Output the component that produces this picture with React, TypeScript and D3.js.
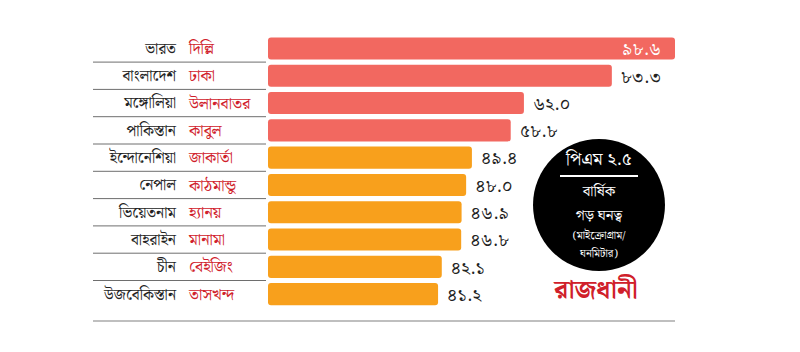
import { useRef, useEffect } from 'react'
import * as d3 from 'd3'

const countries = ['ভারত', 'বাংলাদেশ', 'মঙ্গোলিয়া', 'পাকিস্তান', 'ইন্দোনেশিয়া', 'নেপাল', 'ভিয়েতনাম', 'বাহরাইন', 'চীন', 'উজবেকিস্তান']
const capitals = ['দিল্লি', 'ঢাকা', 'উলানবাতর', 'কাবুল', 'জাকার্তা', 'কাঠমান্ডু', 'হ্যানয়', 'মানামা', 'বেইজিং', 'তাসখন্দ']
const values = [98.6, 83.3, 62.0, 58.8, 49.4, 48.0, 46.9, 46.8, 42.1, 41.2]
// first four rows in red, rest orange
const groups = ['high', 'high', 'high', 'high', 'mid', 'mid', 'mid', 'mid', 'mid', 'mid']

const BN_DIGITS = ['০', '১', '২', '৩', '৪', '৫', '৬', '৭', '৮', '৯']
function bn(v: number): string {
  return v.toFixed(1).replace(/\d/g, d => BN_DIGITS[+d])
}

const FONT = '"Noto Serif Bengali", "Noto Sans Bengali", "Lohit Bengali", "Noto Sans", sans-serif'

export default function App() {
  const svgRef = useRef<SVGSVGElement>(null)

  useEffect(() => {
    if (!svgRef.current) return
    const svg = d3.select(svgRef.current)
    svg.selectAll('*').remove()

    const width = 800
    const height = 352

    const x = d3.scaleLinear().domain([0, 98.6]).range([268, 675])
    const y = d3.scaleBand<number>()
      .domain(d3.range(values.length))
      .range([34.8, 307.8])
      .paddingInner(0.19)
      .paddingOuter(0.095)
    const color = d3.scaleOrdinal<string, string>()
      .domain(['high', 'mid'])
      .range(['#f26860', '#f8a01c'])

    const step = y.step()
    const bw = y.bandwidth()
    const idx = d3.range(values.length)

    // separators between label rows
    svg.append('g')
      .selectAll('line')
      .data(d3.range(1, values.length))
      .join('line')
      .attr('x1', 93).attr('x2', 266)
      .attr('y1', i => y(i)! - (step - bw) / 2)
      .attr('y2', i => y(i)! - (step - bw) / 2)
      .attr('stroke', '#6e6e6e')
      .attr('stroke-width', 1)

    // bottom rule
    svg.append('line')
      .attr('x1', 93).attr('x2', 675)
      .attr('y1', 321).attr('y2', 321)
      .attr('stroke', '#aaa')
      .attr('stroke-width', 1.5)

    // bars
    svg.append('g')
      .selectAll('rect')
      .data(idx)
      .join('rect')
      .attr('x', x(0))
      .attr('y', i => y(i)!)
      .attr('width', i => x(values[i]) - x(0))
      .attr('height', bw)
      .attr('rx', 3)
      .attr('fill', i => color(groups[i]))

    // country names
    svg.append('g')
      .selectAll('text')
      .data(idx)
      .join('text')
      .attr('x', 176)
      .attr('y', i => y(i)! + bw / 2)
      .attr('dy', '0.35em')
      .attr('text-anchor', 'end')
      .style('font-family', FONT)
      .style('font-size', '15.5px')
      .style('fill', '#222')
      .text(i => countries[i])

    // capitals
    svg.append('g')
      .selectAll('text')
      .data(idx)
      .join('text')
      .attr('x', 189)
      .attr('y', i => y(i)! + bw / 2)
      .attr('dy', '0.35em')
      .style('font-family', FONT)
      .style('font-size', '16px')
      .style('fill', '#d0202a')
      .text(i => capitals[i])

    // values
    svg.append('g')
      .selectAll('text')
      .data(idx)
      .join('text')
      .attr('x', i => i === 0 ? x(values[i]) - 14 : x(values[i]) + 9)
      .attr('y', i => y(i)! + bw / 2)
      .attr('dy', '0.38em')
      .attr('text-anchor', i => i === 0 ? 'end' : 'start')
      .style('font-family', FONT)
      .style('font-size', '18px')
      .style('fill', i => i === 0 ? '#fff' : '#222')
      .text(i => bn(values[i]))

    // legend badge
    const cx = 599
    const cy = 205
    svg.append('circle')
      .attr('cx', cx).attr('cy', cy).attr('r', 66)
      .attr('fill', '#000')

    const badge = svg.append('g')
      .style('font-family', FONT)
      .attr('fill', '#fff')
      .attr('text-anchor', 'middle')
    badge.append('text').attr('x', cx).attr('y', 165)
      .style('font-size', '18px').text('পিএম ২.৫')
    badge.append('line')
      .attr('x1', cx - 39).attr('x2', cx + 39)
      .attr('y1', 176).attr('y2', 176)
      .attr('stroke', '#fff').attr('stroke-width', 2)
    badge.append('text').attr('x', cx).attr('y', 196)
      .style('font-size', '15px').text('বার্ষিক')
    badge.append('text').attr('x', cx).attr('y', 220)
      .style('font-size', '15px').text('গড় ঘনত্ব')
    badge.append('text').attr('x', cx).attr('y', 239)
      .style('font-size', '11px').text('(মাইক্রোগ্রাম/')
    badge.append('text').attr('x', cx).attr('y', 257)
      .style('font-size', '11px').text('ঘনমিটার)')

    svg.append('text')
      .attr('x', 596).attr('y', 298)
      .attr('text-anchor', 'middle')
      .style('font-family', FONT)
      .style('font-size', '26px')
      .style('font-weight', 'bold')
      .style('fill', '#d0202a')
      .text('রাজধানী')

    svg.attr('width', width).attr('height', height)
  }, [])

  return (
    <div style={{ position: 'absolute', left: 0, top: 0 }}>
      <svg ref={svgRef} width={800} height={352} style={{ display: 'block', background: '#fff' }} />
    </div>
  )
}
